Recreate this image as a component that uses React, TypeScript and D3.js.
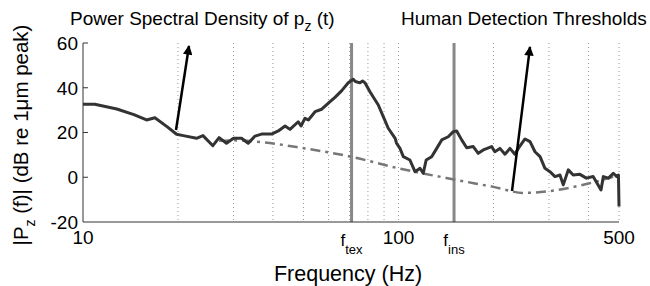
import { useEffect, useRef } from "react";
import * as d3 from "d3";

// PSD of p_z(t)
const psdFreq = [10, 10.9, 12.8, 14.5, 15.9, 16.9, 18.5, 19.8, 20.8, 22.9, 24, 25.8, 27, 28.5, 30, 31.8, 33.4, 35.1, 36.8, 39.6, 41.6, 43.7, 45.3, 48.1, 49.1, 50.5, 51.8, 54.4, 57.1, 60.7, 62.9, 66.1, 69.3, 71.9, 73, 75.5, 77, 78.3, 81.2, 86.3, 89.5, 92.8, 97.6, 98.6, 101.1, 103.6, 108.7, 112.8, 117, 119.8, 122.4, 127.4, 132.2, 137.1, 143.8, 149.2, 152.9, 158.6, 164.5, 172.6, 179, 185.7, 197.4, 202, 209.7, 217.5, 225.6, 233.8, 239.8, 251.8, 261.2, 270.8, 281, 291.3, 302, 313.4, 325, 332.9, 345.3, 358, 376, 394, 414, 438.5, 446, 463, 479.6, 492, 498, 500];
const psdDb = [32.6, 32.6, 30.5, 28, 25.6, 26.6, 22.5, 19.2, 18.6, 17.4, 18.6, 14.1, 17.7, 15.2, 17.4, 17.4, 15.2, 18.4, 19.3, 19.3, 20.7, 22.9, 21.4, 24.8, 22.9, 26.3, 25.6, 29.3, 30.4, 33.8, 35.7, 38.7, 42.2, 43.8, 42.8, 42.2, 43, 42.2, 38.2, 32.3, 27.1, 21.9, 17.4, 15.2, 12.9, 9.2, 7.7, 2.5, 4, 1.8, 7.7, 9.2, 12.9, 16.7, 18.1, 20.4, 20.7, 16.7, 13.2, 13.7, 10.7, 12.2, 13.7, 11.4, 12.9, 10.3, 12.9, 10.3, 12.9, 17.1, 15.9, 11.4, 9.2, 4, 2.5, 0.3, 1, -3.4, 3.3, 1, 1.3, -0.4, 0.3, -5.7, 0.3, -0.4, 1.8, 0.3, 1, -13.1];

// human detection thresholds
const thrFreq = [27, 30, 35, 50, 70, 100, 150, 200, 250, 300, 400, 500];
const thrDb = [16.3, 16.5, 16, 13, 9.3, 4, -1, -4.3, -7, -6.2, -2.8, 1];

const gridFreq = [20, 30, 40, 50, 60, 70, 80, 90, 100, 200, 300, 400, 500];
const xTicks = [10, 100, 500];
const yTicks = [60, 40, 20, 0, -20];
const fTex = 71;
const fIns = 150;

const font = "'Liberation Sans', Arial, Helvetica, sans-serif";

export default function App() {
  const ref = useRef<SVGSVGElement>(null);

  useEffect(() => {
    if (!ref.current) return;
    const svg = d3.select(ref.current);
    svg.selectAll("*").remove();

    const x = d3.scaleLog().domain([10, 500]).range([83, 619]);
    const y = d3.scaleLinear().domain([-20, 60]).range([222, 43]);

    const defs = svg.append("defs");
    defs
      .append("marker")
      .attr("id", "head")
      .attr("viewBox", "0 0 10 10")
      .attr("refX", 9)
      .attr("refY", 5)
      .attr("markerWidth", 5)
      .attr("markerHeight", 3.8)
      .attr("orient", "auto")
      .attr("markerUnits", "strokeWidth")
      .append("path")
      .attr("d", "M0,0 L10,5 L0,10 z")
      .attr("fill", "#000");

    // dotted grid
    svg
      .append("g")
      .selectAll("line")
      .data(gridFreq)
      .join("line")
      .attr("x1", (d) => x(d))
      .attr("x2", (d) => x(d))
      .attr("y1", y(60))
      .attr("y2", y(-20))
      .attr("stroke", "#999")
      .attr("stroke-width", 1)
      .attr("stroke-dasharray", "1,3");

    // f_tex / f_ins markers
    svg
      .append("g")
      .selectAll("line")
      .data([fTex, fIns])
      .join("line")
      .attr("x1", (d) => x(d))
      .attr("x2", (d) => x(d))
      .attr("y1", y(60))
      .attr("y2", y(-20))
      .attr("stroke", "#888")
      .attr("stroke-width", 3);

    // axes
    const ax = svg.append("g").attr("stroke", "#333").attr("stroke-width", 1);
    ax.append("line").attr("x1", 83).attr("x2", 83).attr("y1", y(60)).attr("y2", y(-20));
    ax.append("line").attr("x1", 83).attr("x2", x(500)).attr("y1", y(-20)).attr("y2", y(-20));
    ax.selectAll("line.tick")
      .data(yTicks.slice(0, 4))
      .join("line")
      .attr("class", "tick")
      .attr("x1", 83)
      .attr("x2", 88)
      .attr("y1", (d) => y(d))
      .attr("y2", (d) => y(d));

    const txt = svg.append("g").attr("font-family", font).attr("fill", "#000");

    txt.selectAll("text.yt")
      .data(yTicks)
      .join("text")
      .attr("class", "yt")
      .attr("x", 78)
      .attr("y", (d) => y(d))
      .attr("dy", "0.36em")
      .attr("text-anchor", "end")
      .attr("font-size", 19)
      .text((d) => d);

    txt.selectAll("text.xt")
      .data(xTicks)
      .join("text")
      .attr("class", "xt")
      .attr("x", (d) => x(d))
      .attr("y", 244)
      .attr("text-anchor", "middle")
      .attr("font-size", 19)
      .text((d) => d);

    const sub = (xx: number, main: string, s: string) => {
      const t = txt.append("text").attr("x", xx).attr("y", 246).attr("text-anchor", "middle").attr("font-size", 17);
      t.append("tspan").text(main);
      t.append("tspan").attr("dy", 8).attr("font-size", 13).text(s);
    };
    sub(x(fTex), "f", "tex");
    sub(x(fIns), "f", "ins");

    txt.append("text")
      .attr("x", 348)
      .attr("y", 281)
      .attr("text-anchor", "middle")
      .attr("font-size", 21.5)
      .text("Frequency (Hz)");

    const yl = txt.append("text")
      .attr("transform", "translate(28,135) rotate(-90)")
      .attr("text-anchor", "middle")
      .attr("font-size", 20.5);
    yl.append("tspan").text("|P");
    yl.append("tspan").attr("dy", 7).attr("font-size", 14).text("z");
    yl.append("tspan").attr("dy", -7).text(" (f)| (dB re 1\u03bcm peak)");

    const t1 = txt.append("text").attr("x", 70).attr("y", 25).attr("font-size", 19);
    t1.append("tspan").text("Power Spectral Density of p");
    t1.append("tspan").attr("dy", 6).attr("font-size", 14).text("z");
    t1.append("tspan").attr("dy", -6).text(" (t)");

    txt.append("text").attr("x", 401).attr("y", 25).attr("font-size", 19).text("Human Detection Thresholds");

    // threshold curve
    const thr = thrFreq.map((f, i) => [f, thrDb[i]] as [number, number]);
    svg.append("path")
      .datum(thr)
      .attr("fill", "none")
      .attr("stroke", "#777")
      .attr("stroke-width", 2.5)
      .attr("stroke-dasharray", "10,5,3,5")
      .attr("d", d3.line<[number, number]>().x((d) => x(d[0])).y((d) => y(d[1])).curve(d3.curveMonotoneX));

    // PSD curve
    const psd = psdFreq.map((f, i) => [f, psdDb[i]] as [number, number]);
    svg.append("path")
      .datum(psd)
      .attr("fill", "none")
      .attr("stroke", "#333")
      .attr("stroke-width", 3)
      .attr("stroke-linejoin", "round")
      .attr("d", d3.line<[number, number]>().x((d) => x(d[0])).y((d) => y(d[1])));

    // annotation arrows
    const arrows = [
      [176, 130, 189, 46],
      [512, 191, 530, 47],
    ];
    svg.append("g")
      .selectAll("line")
      .data(arrows)
      .join("line")
      .attr("x1", (d) => d[0])
      .attr("y1", (d) => d[1])
      .attr("x2", (d) => d[2])
      .attr("y2", (d) => d[3])
      .attr("stroke", "#000")
      .attr("stroke-width", 2.5)
      .attr("marker-end", "url(#head)");
  }, []);

  return (
    <svg
      ref={ref}
      width={650}
      height={286}
      style={{ position: "absolute", left: 0, top: 0, background: "#fff" }}
    />
  );
}
